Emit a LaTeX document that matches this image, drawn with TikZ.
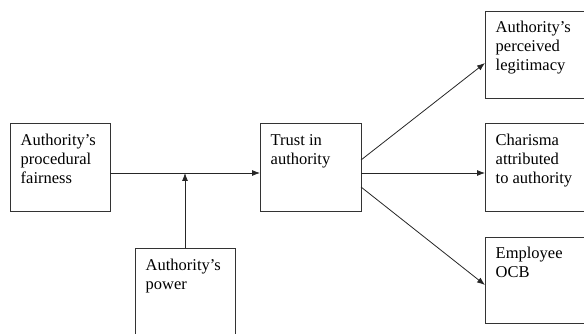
\documentclass[tikz,border=0pt]{standalone}
\usepackage{fontspec}
\setmainfont{Liberation Serif}
\usetikzlibrary{arrows.meta}
\begin{document}
\begin{tikzpicture}[x=1pt,y=-1pt,
  boxstyle/.style={draw=black!80,line width=0.8pt,minimum width=100pt,anchor=north west,inner sep=0pt,outer sep=0pt},
  lbl/.style={anchor=base west,inner sep=0pt,align=left,font=\fontsize{16.5}{19}\selectfont,xshift=10.5pt,yshift={-22.5pt-19pt*(#1-1)}},
  arr/.style={draw=black!85,line width=0.8pt,-{Latex[length=8pt,width=6pt]}}]
\useasboundingbox (0,0) rectangle (584,334);
\clip (0,0) rectangle (584,334);
\node[boxstyle,minimum height=88pt] (pf) at (10,123) {};
\node[boxstyle,minimum width=101pt,minimum height=88pt] (tr) at (260,123) {};
\node[boxstyle,minimum height=92pt] (pw) at (135,248) {};
\node[boxstyle,minimum height=87pt] (r1) at (485,11) {};
\node[boxstyle,minimum height=88pt] (r2) at (485,123) {};
\node[boxstyle,minimum height=86pt] (r3) at (485,237) {};
\node[lbl=3] (t1) at (pf.north west) {Authority’s\\procedural\\fairness};
\node[lbl=2] (t2) at (tr.north west) {Trust in\\authority};
\node[lbl=2] (t3) at (pw.north west) {Authority’s\\power};
\node[lbl=3,yshift=1pt] (t4) at (r1.north west) {Authority’s\\perceived\\legitimacy};
\node[lbl=3] (t5) at (r2.north west) {Charisma\\attributed\\to authority};
\node[lbl=2,yshift=1pt] (t6) at (r3.north west) {Employee\\OCB};
\coordinate (jn) at ([yshift=-6pt]pf.east);
\draw[arr] (jn) -- ([yshift=-6pt]tr.west);
\draw[arr] (pw.north) -- (pw.north |- jn);
\draw[arr] ([yshift=7pt]tr.east) -- ([yshift=-8.5pt]r1.west);
\draw[arr] ([yshift=-6pt]tr.east) -- ([yshift=-6pt]r2.west);
\draw[arr] ([yshift=-20pt]tr.east) -- ([yshift=-5pt]r3.west);
\end{tikzpicture}
\end{document}
